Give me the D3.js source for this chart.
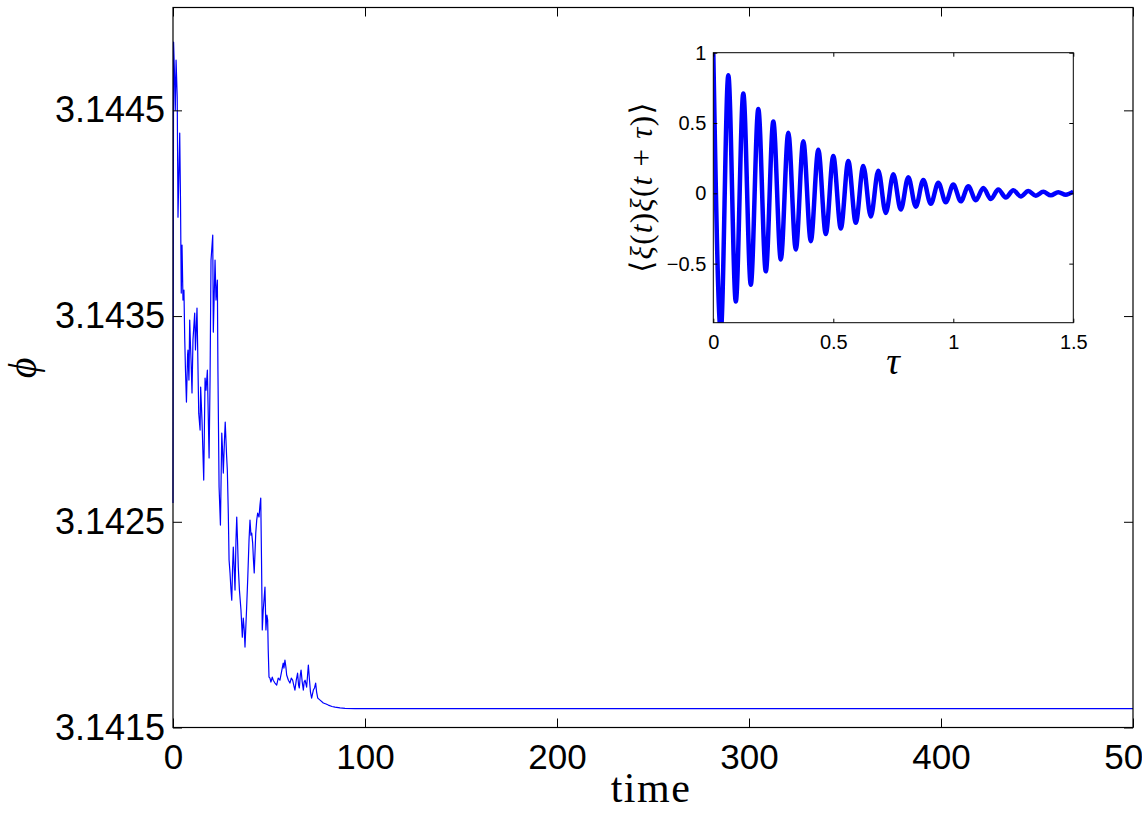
<!DOCTYPE html>
<html>
<head>
<meta charset="utf-8">
<script src="https://cdn.jsdelivr.net/npm/d3@7"></script>
<style>
  html, body { margin: 0; padding: 0; background: #fff; }
  svg { display: block; }
</style>
</head>
<body>
<svg id="chart" width="1142" height="813"></svg>
<script>
// ---------------- DATA ----------------
// main series: time vs phi
const timeValues = [0, 0.3, 0.8, 1.2, 1.6, 2.2, 2.6, 3.5, 3.9, 4.3, 4.7, 5.2, 5.7, 6.1, 6.5, 7.0, 7.6, 7.8, 8.3, 8.7,
  9.1, 9.4, 9.9, 10.4, 11.3, 11.7, 12.5, 13.4, 14.1, 14.4, 15.1, 16.0, 16.7, 17.2, 17.9, 18.8, 19.3, 19.8, 20.7, 21.0,
  21.4, 21.9, 22.4, 23.1, 23.4, 24.0, 24.7, 25.4, 25.8, 26.2, 26.8, 27.2, 27.9, 28.3, 28.8, 29.2, 29.7, 30.2, 30.6, 31.0,
  31.4, 31.8, 32.3, 32.8, 33.2, 33.6, 34.0, 34.6, 35.4, 36.1, 36.6, 37.1, 37.5, 38.3, 38.9, 39.6, 40.1, 40.6, 41.0, 41.5,
  41.9, 42.3, 43.1, 43.6, 44.1, 44.8, 45.3, 45.7, 46.1, 46.5, 47.0, 47.4, 47.9, 48.4, 48.9, 49.3, 49.6, 50.0, 50.5, 51.0,
  51.7, 52.2, 53.1, 54.0, 54.8, 55.7, 56.5, 57.4, 57.8, 58.3, 58.8, 59.2, 60.1, 60.9, 61.6, 62.3, 63.0, 63.5, 64.2, 64.9,
  65.4, 65.8, 66.3, 66.7, 67.3, 67.9, 68.3, 68.8, 69.6, 70.1, 70.5, 71.1, 71.6, 72.2, 73.1, 73.7, 74.3, 74.8, 75.4, 76.6,
  78.3, 79.7, 80.9, 82.8, 84.4, 87.0, 89.6, 94.8, 500];
const phiValues = [3.142591, 3.144832, 3.144672, 3.144501, 3.144744, 3.144565, 3.143981, 3.144390, 3.144064, 3.143612,
  3.143845, 3.143578, 3.143626, 3.143393, 3.143237, 3.143082, 3.143310, 3.143335, 3.143189, 3.143481,
  3.143359, 3.143286, 3.143126, 3.143383, 3.143515, 3.143335, 3.143539, 3.143028, 3.142946, 3.143155,
  3.142994, 3.142703, 3.143199, 3.143140, 3.143237, 3.142810, 3.143189, 3.143772, 3.143894, 3.143422,
  3.143578, 3.143772, 3.143578, 3.143675, 3.143237, 3.142669, 3.142484, 3.142931, 3.142849, 3.142737,
  3.142897, 3.142985, 3.142824, 3.142751, 3.142542, 3.142314, 3.142251, 3.142168, 3.142119, 3.142265,
  3.142377, 3.142289, 3.142168, 3.142411, 3.142523, 3.142411, 3.142280, 3.142168, 3.142071, 3.141939,
  3.142032, 3.141974, 3.141891, 3.142071, 3.142217, 3.142411, 3.142508, 3.142435, 3.142445, 3.142396,
  3.142314, 3.142251, 3.142445, 3.142508, 3.142542, 3.142523, 3.142581, 3.142615, 3.142314, 3.141974,
  3.142071, 3.142119, 3.142183, 3.141974, 3.142046, 3.142022, 3.141876, 3.141745, 3.141740, 3.141721,
  3.141745, 3.141730, 3.141716, 3.141706, 3.141740, 3.141730, 3.141769, 3.141813, 3.141789, 3.141828,
  3.141794, 3.141755, 3.141730, 3.141716, 3.141740, 3.141730, 3.141701, 3.141682, 3.141730, 3.141764,
  3.141706, 3.141692, 3.141755, 3.141779, 3.141721, 3.141682, 3.141721, 3.141730, 3.141696, 3.141755,
  3.141803, 3.141730, 3.141672, 3.141643, 3.141682, 3.141692, 3.141716, 3.141672, 3.141643, 3.141633,
  3.141619, 3.141614, 3.141609, 3.141602, 3.141599, 3.141595, 3.141593, 3.141592, 3.141592];
const mainXTicks = [0, 100, 200, 300, 400, 500];
const mainYTicks = [3.1415, 3.1425, 3.1435, 3.1445];
const mainYTickLabels = ["3.1415", "3.1425", "3.1435", "3.1445"];

// inset: autocorrelation (extrema)
const tauValues = [0, 0.03125, 0.0625, 0.09375, 0.125, 0.15625, 0.1875, 0.21875, 0.25, 0.28125, 0.3125, 0.34375,
  0.375, 0.40625, 0.4375, 0.46875, 0.5, 0.53125, 0.5625, 0.59375, 0.625, 0.65625, 0.6875, 0.71875, 0.75, 0.78125,
  0.8125, 0.84375, 0.875, 0.90625, 0.9375, 0.96875, 1.0, 1.03125, 1.0625, 1.09375, 1.125, 1.15625, 1.1875, 1.21875,
  1.25, 1.28125, 1.3125, 1.34375, 1.375, 1.40625, 1.4375, 1.46875, 1.5];
const corrValues = [1.0, -0.98, 0.84, -0.77, 0.71, -0.65, 0.60, -0.555, 0.51, -0.47, 0.43, -0.40,
  0.37, -0.34, 0.31, -0.29, 0.265, -0.25, 0.23, -0.21, 0.195, -0.165, 0.16, -0.14, 0.135, -0.115,
  0.115, -0.095, 0.095, -0.075, 0.075, -0.063, 0.062, -0.057, 0.05, -0.05, 0.038, -0.04, 0.028, -0.03,
  0.022, -0.022, 0.016, -0.017, 0.011, -0.014, 0.008, -0.01, 0.012];
const insetXTicks = [0, 0.5, 1, 1.5];
const insetXTickLabels = ["0", "0.5", "1", "1.5"];
const insetYTicks = [-0.5, 0, 0.5, 1];
const insetYTickLabels = ["\u22120.5", "0", "0.5", "1"];

// ---------------- DRAW ----------------
const svg = d3.select("#chart");
const sansFont = "'Liberation Sans', Arial, Helvetica, sans-serif";
const serifFont = "'Liberation Serif', 'DejaVu Serif', 'Times New Roman', serif";

const M = { left: 173, right: 1133, top: 7.5, bottom: 727.5 };
const x = d3.scaleLinear().domain([0, 500]).range([M.left, M.right]);
const y = d3.scaleLinear().domain([3.1415, 3.145]).range([M.bottom, M.top]);

// main line
const mainData = timeValues.map((t, i) => [t, phiValues[i]]);
svg.append("path")
  .datum(mainData)
  .attr("fill", "none")
  .attr("stroke", "#0000ff")
  .attr("stroke-width", 1.2)
  .attr("stroke-linejoin", "round")
  .attr("d", d3.line().x(d => x(d[0])).y(d => y(d[1])));

function styleAxis(g, fontSize, family) {
  g.selectAll(".domain").remove();
  g.selectAll(".tick line").attr("stroke", "#000").attr("stroke-width", 1);
  g.selectAll(".tick text").attr("fill", "#000").style("font-family", family).style("font-size", fontSize + "px");
}

// main axes (ticks inward)
svg.append("g").attr("transform", `translate(0,${M.bottom})`)
  .call(d3.axisBottom(x).tickValues(mainXTicks).tickSize(-9).tickPadding(17).tickFormat(d3.format("d")))
  .call(g => styleAxis(g, 35, sansFont));
svg.append("g").attr("transform", `translate(0,${M.top})`)
  .call(d3.axisTop(x).tickValues(mainXTicks).tickSize(-9).tickFormat(""))
  .call(g => styleAxis(g, 35, sansFont));
svg.append("g").attr("transform", `translate(${M.left},0)`)
  .call(d3.axisLeft(y).tickValues(mainYTicks).tickSize(-9).tickPadding(8)
    .tickFormat((d, i) => mainYTickLabels[i]))
  .call(g => styleAxis(g, 36, sansFont));
svg.append("g").attr("transform", `translate(${M.right},0)`)
  .call(d3.axisRight(y).tickValues(mainYTicks).tickSize(-9).tickFormat(""))
  .call(g => styleAxis(g, 35, sansFont));

// main frame
svg.append("rect")
  .attr("x", M.left).attr("y", M.top)
  .attr("width", M.right - M.left).attr("height", M.bottom - M.top)
  .attr("fill", "none").attr("stroke", "#000").attr("stroke-width", 1.2);

// main labels
svg.append("text")
  .attr("x", 651).attr("y", 802)
  .attr("text-anchor", "middle")
  .style("font-family", serifFont).style("font-size", "42px")
  .attr("letter-spacing", "1.5")
  .text("time");
svg.append("text")
  .attr("transform", "translate(36,368) rotate(-90)")
  .attr("text-anchor", "middle")
  .style("font-family", serifFont).style("font-size", "40px").style("font-style", "italic")
  .text("\u03D5");

// ---------------- INSET ----------------
const I = { left: 713.3, right: 1073.3, top: 52.7, bottom: 322.7 };
const xi = d3.scaleLinear().domain([0, 1.5]).range([I.left, I.right]);
const yi = d3.scaleLinear().domain([-0.92, 1]).range([I.bottom, I.top]);

svg.append("rect")
  .attr("x", I.left).attr("y", I.top)
  .attr("width", I.right - I.left).attr("height", I.bottom - I.top)
  .attr("fill", "#fff");

svg.append("clipPath").attr("id", "insetClip")
  .append("rect")
  .attr("x", I.left).attr("y", I.top)
  .attr("width", I.right - I.left).attr("height", I.bottom - I.top);

const insetData = tauValues.map((t, i) => [t, corrValues[i]]);
svg.append("path")
  .datum(insetData)
  .attr("clip-path", "url(#insetClip)")
  .attr("fill", "none")
  .attr("stroke", "#0000ff")
  .attr("stroke-width", 4.5)
  .attr("stroke-linejoin", "round")
  .attr("d", d3.line().x(d => xi(d[0])).y(d => yi(d[1])).curve(d3.curveMonotoneX));

svg.append("g").attr("transform", `translate(0,${I.bottom})`)
  .call(d3.axisBottom(xi).tickValues(insetXTicks).tickSize(-4).tickPadding(12)
    .tickFormat((d, i) => insetXTickLabels[i]))
  .call(g => styleAxis(g, 20, sansFont));
svg.append("g").attr("transform", `translate(0,${I.top})`)
  .call(d3.axisTop(xi).tickValues(insetXTicks).tickSize(-4).tickFormat(""))
  .call(g => styleAxis(g, 20, sansFont));
svg.append("g").attr("transform", `translate(${I.left},0)`)
  .call(d3.axisLeft(yi).tickValues(insetYTicks).tickSize(-4).tickPadding(7)
    .tickFormat((d, i) => insetYTickLabels[i]))
  .call(g => styleAxis(g, 20, sansFont));
svg.append("g").attr("transform", `translate(${I.right},0)`)
  .call(d3.axisRight(yi).tickValues(insetYTicks).tickSize(-4).tickFormat(""))
  .call(g => styleAxis(g, 20, sansFont));

svg.append("rect")
  .attr("x", I.left).attr("y", I.top)
  .attr("width", I.right - I.left).attr("height", I.bottom - I.top)
  .attr("fill", "none").attr("stroke", "#000").attr("stroke-width", 1);

// inset labels
svg.append("text")
  .attr("x", 893).attr("y", 374)
  .attr("text-anchor", "middle")
  .style("font-family", serifFont).style("font-size", "38px").style("font-style", "italic")
  .text("\u03C4");

const yl = svg.append("text")
  .attr("transform", "translate(652,187) rotate(-90)")
  .attr("text-anchor", "middle")
  .attr("letter-spacing", "1.3")
  .style("font-family", serifFont).style("font-size", "31px");
const parts = [["\u27E8", false], ["\u03BE", true], ["(", false], ["t", true], [")", false],
  ["\u03BE", true], ["(", false], ["t", true], [" + ", false], ["\u03C4", true], [")", false], ["\u27E9", false]];
parts.forEach(([s, it]) => {
  yl.append("tspan").style("font-style", it ? "italic" : "normal").text(s);
});
</script>
</body>
</html>
